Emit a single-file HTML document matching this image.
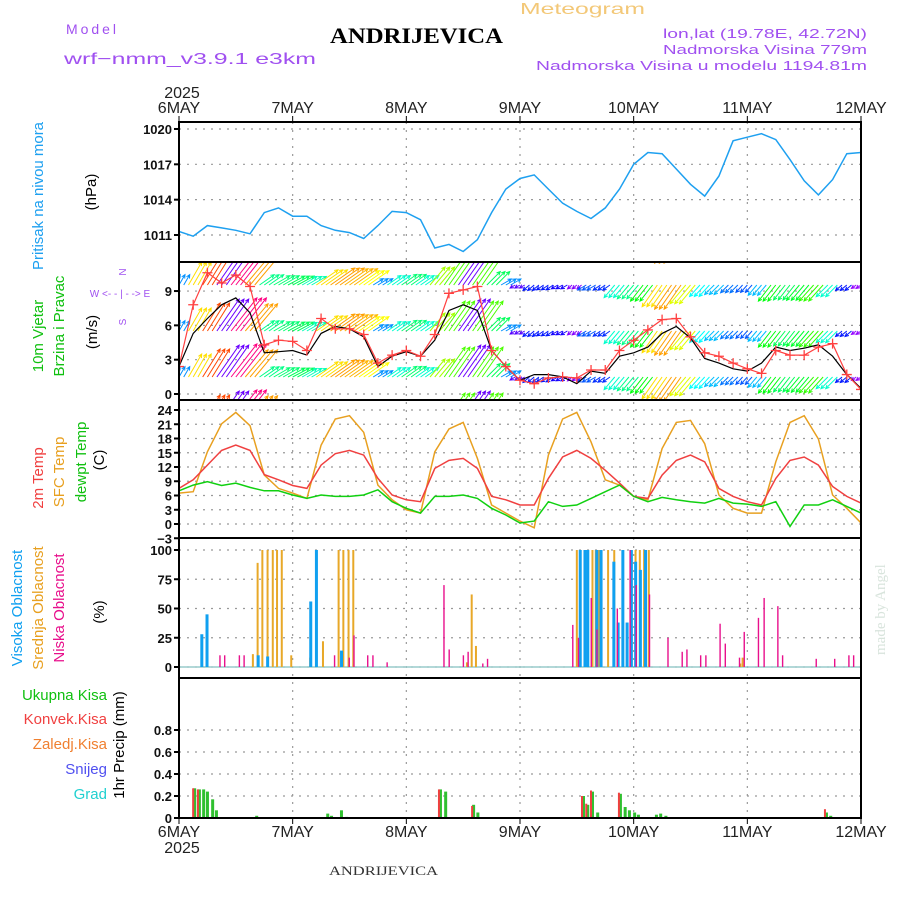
<!DOCTYPE html>
<html><head><meta charset="utf-8"><style>
html,body{margin:0;padding:0;background:#fff;}
svg{display:block;font-family:"Liberation Sans",sans-serif;}
</style></head><body>
<svg id="chart" width="900" height="900" viewBox="0 0 900 900" xmlns="http://www.w3.org/2000/svg">
<rect x="0" y="0" width="900" height="900" fill="#fff"/>
<text x="520" y="14" font-size="16" fill="#f3c878" textLength="125" lengthAdjust="spacingAndGlyphs">Meteogram</text>
<text x="66" y="34" font-size="14" fill="#a050f0" textLength="50">Model</text>
<text x="64" y="64" font-size="16" fill="#a050f0" textLength="252" lengthAdjust="spacingAndGlyphs">wrf−nmm_v3.9.1  e3km</text>
<text x="330" y="43" font-family="Liberation Serif,serif" font-weight="bold" font-size="22" fill="#000" textLength="173" lengthAdjust="spacingAndGlyphs">ANDRIJEVICA</text>
<text x="867" y="38" font-size="13" fill="#a050f0" text-anchor="end" textLength="204" lengthAdjust="spacingAndGlyphs">lon,lat (19.78E, 42.72N)</text>
<text x="867" y="54" font-size="13" fill="#a050f0" text-anchor="end" textLength="204" lengthAdjust="spacingAndGlyphs">Nadmorska Visina 779m</text>
<text x="867" y="70" font-size="13" fill="#a050f0" text-anchor="end" textLength="331" lengthAdjust="spacingAndGlyphs">Nadmorska Visina u modelu 1194.81m</text>
<text x="329" y="875" font-family="Liberation Serif,serif" font-size="13" fill="#333" textLength="109" lengthAdjust="spacingAndGlyphs">ANDRIJEVICA</text>
<text transform="translate(885,655) rotate(-90)" font-family="Liberation Serif,serif" font-size="15" fill="#d8e4dc">made by Angel</text>
<g id="g-main"></g>
</svg>
<script>
// ---- data (3-hourly, hours from 6MAY 00) ----
const hours=[0,3,6,9,12,15,18,21,24,27,30,33,36,39,42,45,48,51,54,57,60,63,66,69,72,75,78,81,84,87,90,93,96,99,102,105,108,111,114,117,120,123,126,129,132,135,138,141,144];
const dayLabels=['6MAY','7MAY','8MAY','9MAY','10MAY','11MAY','12MAY'];
const pressure=[1011.3,1010.9,1011.8,1011.6,1011.4,1011.1,1012.9,1013.3,1012.6,1012.6,1011.8,1011.4,1011.2,1010.7,1011.8,1013.0,1012.9,1012.3,1009.9,1010.2,1009.6,1010.6,1012.9,1014.9,1015.8,1016.1,1014.9,1013.7,1013.0,1012.4,1013.3,1014.9,1017.0,1018.0,1017.9,1016.6,1015.3,1014.3,1016.0,1019.0,1019.3,1019.6,1019.1,1017.4,1015.6,1014.4,1015.7,1017.9,1018.0];
const windSpeed=[2.4,5.3,6.6,7.8,8.4,7.1,3.6,3.7,3.8,3.4,5.3,5.9,5.7,5.0,2.4,3.3,3.7,3.3,4.7,7.3,7.8,7.3,3.8,2.4,1.2,1.7,1.7,1.5,0.9,2.0,1.8,3.3,3.6,4.1,5.3,5.9,4.9,3.1,2.7,2.2,2.0,2.7,4.1,3.8,4.0,4.3,3.3,1.7,0.5];
const windGust=[2.4,7.8,10.6,9.7,10.4,9.4,4.3,4.7,4.6,3.8,6.6,5.7,5.7,5.2,2.7,3.4,3.8,3.3,5.2,8.8,9.1,9.4,3.8,2.4,1.2,0.9,1.4,1.5,1.4,2.1,2.1,3.8,4.7,5.6,6.5,6.6,5.0,3.6,3.3,2.7,2.2,1.8,3.8,3.4,3.4,4.1,4.4,1.7,0.4];
const windDir=[30,30,32,35,38,40,55,60,62,60,55,55,55,55,58,55,55,55,40,35,35,35,45,60,240,230,235,240,230,240,235,220,220,218,215,215,220,222,225,225,222,220,218,218,220,222,225,230,235];
const temp2m=[7.5,9.3,12.4,15.5,16.6,15.5,10.4,9.3,8.1,7.5,12.4,14.8,15.5,14.5,9.6,6.1,5.1,4.7,11.7,13.4,13.8,11.7,5.8,5.1,4.0,4.0,9.6,14.1,15.5,13.8,11.3,8.6,5.8,5.4,10.3,13.4,14.5,13.1,7.5,5.8,4.7,4.0,9.6,13.4,14.1,12.4,7.9,5.8,4.4];
const tempSfc=[6.5,6.8,15.2,21.1,23.5,20.7,10.3,7.5,6.5,5.4,16.6,22.1,22.8,19.3,8.2,5.1,3.0,2.3,15.2,20.0,21.4,13.8,4.0,2.3,0.6,-0.8,14.5,22.1,23.5,17.3,9.3,8.2,5.8,5.1,15.9,21.4,21.8,16.9,6.1,3.3,2.3,2.3,13.1,21.4,22.8,17.9,6.1,3.3,0.2];
const dewPoint=[7.0,8.2,8.9,8.1,8.6,7.7,7.0,7.0,6.1,5.4,6.1,5.8,5.8,6.1,7.2,4.7,3.3,2.3,5.8,5.8,6.1,5.4,3.3,1.9,0.2,0.6,4.7,3.7,4.0,5.4,6.8,8.2,5.8,4.7,5.6,5.1,4.7,4.4,5.4,4.4,4.2,3.7,4.7,-0.5,4.0,4.0,5.1,3.7,2.3];
const highCloudHours=[4.5,5.6,16.4,18.4,27.5,28.7,34.0,84.4,85.4,86.0,87.9,88.8,91.5,92.4,93.4,94.3,95.2,96.1,97.1,98.2];
const highCloud=[28,45,10,9,56,100,14,100,100,100,100,100,90,38,100,38,100,90,83,100];
const midCloudHours=[15.6,16.6,17.6,18.7,19.8,20.7,21.7,23.7,27.7,30.4,33.7,34.7,35.8,36.8,60.8,61.8,62.7,84.0,87.3,88.0,88.7,90.6,91.9,96.4,97.3,98.2,99.2,118.5,119.0];
const midCloud=[11,89,100,100,100,100,100,10,8,22,100,100,100,100,4,62,18,100,100,100,100,100,100,100,100,100,100,3,8];
const lowCloudHours=[8.5,9.5,12.6,13.6,32.7,35.8,36.8,39.7,40.8,43.8,55.8,56.9,59.9,60.9,64.0,65.0,83.0,84.2,86.9,88.1,92.4,95.1,96.4,99.2,103.1,106.1,107.1,110.0,111.1,114.1,115.2,118.2,119.2,122.2,123.4,126.3,127.3,134.4,138.3,141.3,142.3];
const lowCloud=[10,10,10,10,10,8,27,10,10,4,70,15,10,13,3,7,36,25,59,32,50,100,70,62,25,13,15,10,10,37,20,8,30,42,59,52,10,7,7,10,10];
const precipHours=[3.2,4.2,5.1,5.9,7.0,7.8,16.3,31.3,32.1,34.2,35.3,55.1,56.2,62.1,63.0,85.3,86.2,87.2,88.3,93.1,94.1,95.0,96.1,96.9,100.7,101.6,102.7,136.6,137.5];
const precipTotal=[0.27,0.26,0.26,0.24,0.17,0.07,0.02,0.04,0.02,0.07,0.01,0.26,0.24,0.12,0.05,0.2,0.12,0.24,0.05,0.22,0.1,0.07,0.05,0.03,0.03,0.04,0.02,0.05,0.02];
const precipConv=[0.27,0.26,0,0,0,0,0,0,0,0,0,0.26,0,0.11,0,0.2,0.13,0.25,0,0.23,0,0,0,0,0,0,0,0.08,0];
const pressureTicks=[1011,1014,1017,1020];
const windTicks=[0,3,6,9];
const tempTicks=[-3,0,3,6,9,12,15,18,21,24];
const cloudTicks=[0,25,50,75,100];
const precipTicks=[0,0.2,0.4,0.6,0.8];

const NS='http://www.w3.org/2000/svg';
const G=document.getElementById('g-main');
const X0=179,X1=861;
const xs=h=>X0+h*(X1-X0)/144;
const yP=v=>235-(v-1011)*11.78;
const yW=v=>394-v*11.44;
const yT=v=>524-v*4.75;
const yC=v=>667-v*1.17;
const yR=v=>818-v*110;
function el(tag,attrs,parent){const e=document.createElementNS(NS,tag);for(const k in attrs)e.setAttribute(k,attrs[k]);(parent||G).appendChild(e);return e;}
function txt(s,attrs,parent){const e=el('text',attrs,parent);e.textContent=s;return e;}

const defs=el('defs',{});
const panels=[['p',122,262],['w',262,400],['t',400,538],['c',538,678],['r',678,818]];
panels.forEach(p=>{const c=el('clipPath',{id:'clip-'+p[0]},defs);el('rect',{x:X0,y:p[1],width:X1-X0,height:p[2]-p[1]},c);});

const grid=el('g',{stroke:'#999','stroke-width':1.2,'stroke-dasharray':'2,6'});


for(let d=1;d<6;d++){el('line',{x1:xs(d*24),x2:xs(d*24),y1:122,y2:818},grid);}
function hgrid(ticks,f){ticks.forEach(t=>{const y=f(t);el('line',{x1:X0,x2:X1,y1:y,y2:y},grid);});}
hgrid(pressureTicks,yP);hgrid(windTicks,yW);hgrid(tempTicks,yT);hgrid(cloudTicks,yC);hgrid(precipTicks.slice(1),yR);

function yticks(ticks,f,name,fmt){ticks.forEach(t=>{const y=f(t);
 el('line',{x1:X0-5,x2:X0,y1:y,y2:y,stroke:'#000','stroke-width':2});
 const tx=txt(fmt?fmt(t):String(t),{x:X0-7,y:y+5,'font-size':13,'font-weight':'bold','text-anchor':'end',fill:'#111'});
 
 });}
yticks(pressureTicks,yP,'pressure');yticks(windTicks,yW,'wind');yticks(tempTicks,yT,'temp',t=>t<0?'−'+(-t):t);yticks(cloudTicks,yC,'cloud');
yticks(precipTicks,yR,'precip',t=>t===0?'0':t.toFixed(1));
dayLabels.forEach((s,i)=>{const x=xs(i*24);
 const a=txt(s,{x:x,y:113,'font-size':16,'text-anchor':'middle',fill:'#222'});
 
 
 const b=txt(s,{x:x,y:837,'font-size':16,'text-anchor':'middle',fill:'#222'});
 
 
 el('line',{x1:x,x2:x,y1:116,y2:122,stroke:'#000'});el('line',{x1:x,x2:x,y1:818,y2:824,stroke:'#000'});});
txt('2025',{x:182,y:98,'font-size':16,'text-anchor':'middle',fill:'#222'});
txt('2025',{x:182,y:853,'font-size':16,'text-anchor':'middle',fill:'#222'});

function line(vals,fy,color,clip,name,w){const pts=hours.map((h,i)=>xs(h).toFixed(1)+','+fy(vals[i]).toFixed(1)).join(' ');
 const p=el('polyline',{points:pts,fill:'none',stroke:color,'stroke-width':w||1.5,'clip-path':'url(#clip-'+clip+')'});
 
 return p;}

line(pressure,yP,'#1ea0f0','p','pressure-line');

// wind arrows (each 3h sample drawn as three hourly arrows)
const wg=el('g',{'clip-path':'url(#clip-w)','stroke-width':1});


function spdColor(s){const hs=[[0,280],[1,270],[2,220],[3,185],[4,130],[5,60],[6,35],[7,5],[8,330],[20,320]];
 for(let i=1;i<hs.length;i++){if(s<=hs[i][0]){const a=hs[i-1],b=hs[i],f=(s-a[0])/(b[0]-a[0]);return 'hsl('+(a[1]+(b[1]-a[1])*f)+',100%,50%)';}}return 'hsl(320,100%,50%)';}
const hourPx=(X1-X0)/144;
[239,285,331,377,423].forEach(by=>{hours.forEach((h,i)=>{const s=windSpeed[i],d=windDir[i]*Math.PI/180,L=Math.max(s,1.2)*5;
 const dx=Math.sin(d)*L,dy=-Math.cos(d)*L,c=spdColor(s),ang=Math.atan2(dy,dx);
 [-1,0,1].forEach(k=>{const x=xs(h)+k*hourPx;
  const a=el('path',{d:`M${x},${by}L${x+dx},${by+dy}M${x+dx-4*Math.cos(ang+0.45)},${by+dy-4*Math.sin(ang+0.45)}L${x+dx},${by+dy}L${x+dx-4*Math.cos(ang-0.45)},${by+dy-4*Math.sin(ang-0.45)}`,stroke:c,fill:'none'},wg);
  
  });});});
line(windSpeed,yW,'#000','w','wind-speed-line',1.2);
line(windGust,yW,'#ff4040','w','wind-gust-line',1.2);
hours.forEach((h,i)=>{const x=xs(h),y=yW(windGust[i]);
 const m=el('path',{d:`M${x-5},${y}h10M${x},${y-5}v10`,stroke:'#ff4040','stroke-width':1.3,'clip-path':'url(#clip-w)'});
 
 });

line(tempSfc,yT,'#e8a020','t','sfc-temp-line');
line(temp2m,yT,'#f04040','t','temp-2m-line');
line(dewPoint,yT,'#10d010','t','dewpoint-line');

el('line',{x1:X0,x2:X1,y1:yC(0),y2:yC(0),stroke:'#9cc','stroke-width':1.5});
function bars(hs,vals,fy,color,off,w,clip,name){hs.forEach((h,i)=>{if(!vals[i])return;const x=xs(h)+off,y=fy(vals[i]),y0=fy(0);
 const b=el('rect',{x:x,y:y,width:w,height:y0-y,fill:color,'clip-path':'url(#clip-'+clip+')'});
 
 });}
bars(midCloudHours,midCloud,yC,'#e8a828',-1,2,'c','mid-cloud-bar');
bars(highCloudHours,highCloud,yC,'#10a0f0',0,3,'c','high-cloud-bar');
bars(lowCloudHours,lowCloud,yC,'#e8108c',0,1.4,'c','low-cloud-bar');

bars(precipHours,precipTotal,yR,'#30c030',-1,3,'r','total-precip-bar');
bars(precipHours,precipConv,yR,'#f04040',-2,2,'r','convective-precip-bar');
el('line',{x1:X0,x2:X1,y1:818,y2:818,stroke:'#000','stroke-width':1,'stroke-dasharray':'4,3'});

const fr=el('g',{fill:'none',stroke:'#000','stroke-width':2});


el('rect',{x:X0,y:122,width:X1-X0,height:696},fr);
[262,400,538,678].forEach(y=>el('line',{x1:X0,x2:X1,y1:y,y2:y},fr));

function vlab(s,x,y,color,size,name,len){const t=txt(s,{transform:`translate(${x},${y}) rotate(-90)`,'font-size':size,fill:color,'text-anchor':'middle'});
 if(len){t.setAttribute('textLength',len);t.setAttribute('lengthAdjust','spacingAndGlyphs');}
 
 }
vlab('Pritisak na nivou mora',43,196,'#1ea0f0',15,'pressure-axis-title',148);
vlab('(hPa)',96,192,'#000',15,'pressure-unit');
vlab('10m Vjetar',43,336,'#10c010',15,'wind-axis-title');
vlab('Brzina i Pravac',64,326,'#10c010',15,'wind-axis-subtitle');
vlab('(m/s)',97,332,'#000',15,'wind-unit');
vlab('2m Temp',43,478,'#f04040',15,'temp-2m-title');
vlab('SFC Temp',64,472,'#e8a020',15,'sfc-temp-title');
vlab('dewpt Temp',86,462,'#10c010',15,'dewpoint-title');
vlab('(C)',104,460,'#000',15,'temp-unit');
vlab('Visoka Oblacnost',22,608,'#10a0f0',15,'high-cloud-title');
vlab('Srednja Oblacnost',43,608,'#e8a020',15,'mid-cloud-title');
vlab('Niska Oblacnost',64,608,'#e8108c',15,'low-cloud-title');
vlab('(%)',104,612,'#000',15,'cloud-unit');
vlab('1hr Precip (mm)',124,745,'#000',15,'precip-axis-title');
[['Ukupna Kisa','#10c010',700],['Konvek.Kisa','#f04040',724],['Zaledj.Kisa','#f08030',749],['Snijeg','#5050f0',774],['Grad','#20d0d0',799]].forEach(a=>{
 const t=txt(a[0],{x:107,y:a[2],'font-size':15,fill:a[1],'text-anchor':'end'});
 
 });
const cp=el('g',{fill:'#a050f0','font-size':10,'text-anchor':'middle'});


txt('N',{x:126,y:272,transform:'rotate(-90 126 272)'},cp);
txt('W  <- - | - ->  E',{x:120,y:297},cp);
txt('S',{x:126,y:322,transform:'rotate(-90 126 322)'},cp);
</script>
</body></html>
